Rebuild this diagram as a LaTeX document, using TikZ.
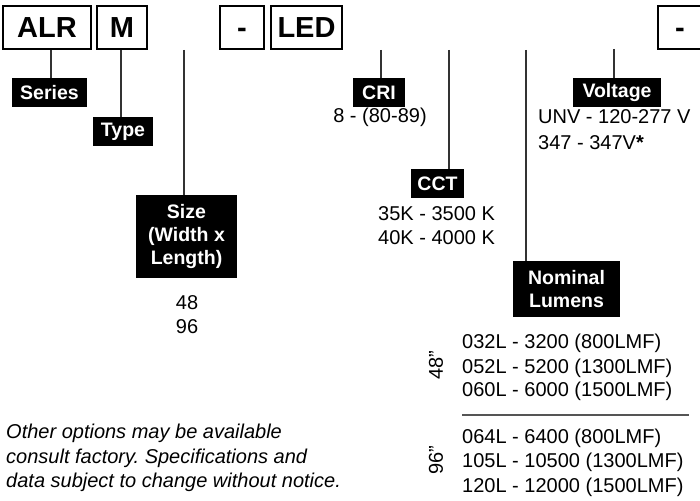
\documentclass[tikz,border=0pt]{standalone}
\usepackage{fontspec}
\setmainfont{Liberation Sans}
\frenchspacing
\usetikzlibrary{positioning, calc}
\definecolor{LineGray}{HTML}{333333}
\definecolor{RuleGray}{HTML}{555555}

\tikzset{
  codebox/.style={draw=black, line width=1.2pt, minimum height=43pt, inner sep=0pt,
                  text height=20.8pt, text depth=0pt,
                  font=\fontsize{29}{32}\selectfont\bfseries},
  tagbox/.style={fill=black, text=white, inner sep=0pt, align=center,
                 font=\fontsize{19.5}{23.3}\selectfont\bfseries},
  lead/.style={draw=LineGray, line width=1.1pt},
  option/.style={inner sep=0pt, font=\fontsize{20}{24}\selectfont}
}

\begin{document}
\begin{tikzpicture}[x=1pt, y=-1pt]
  \useasboundingbox (0,0) rectangle (700,500);

  % ordering code boxes
  \node[codebox, minimum width=88pt] (alr) at (47,27.5) {ALR};
  \node[codebox, minimum width=50pt] (m) at (122,27.5) {M};
  \node[codebox, minimum width=44pt] (dashA) at (242,27.5) {-};
  \node[codebox, minimum width=71pt] (led) at (306.5,27.5) {LED};
  \node[codebox, minimum width=44pt] (dashB) at (680,27.5) {-};

  % black tags
  \node[tagbox, minimum width=75pt, minimum height=29pt] (series) at (49.5,92.5) {Series};
  \node[tagbox, minimum width=60pt, minimum height=29pt] (type) at (123,131.5) {Type};
  \node[tagbox, minimum width=101pt, minimum height=83pt] (size) at (186.5,236.5) {Size\\(Width x\\Length)};
  \node[tagbox, minimum width=52pt, minimum height=29pt] (cri) at (379,92.5) {CRI};
  \node[tagbox, minimum width=53pt, minimum height=29pt] (cct) at (437.5,183.5) {CCT};
  \node[tagbox, minimum width=88pt, minimum height=29pt] (voltage) at (617,92.5) {Voltage};
  \node[tagbox, minimum width=107pt, minimum height=56pt] (lumens) at (566.5,289) {Nominal\\Lumens};

  % leads
  \coordinate (sizeTop) at (184,50);
  \coordinate (criTop) at (381,50);
  \coordinate (cctTop) at (449,50);
  \coordinate (lumTop) at (526,50);
  \coordinate (voltTop) at (614,49);
  \draw[lead] (series.north -| 51,0) -- (alr.south -| 51,0);
  \draw[lead] (type.north -| 121,0) -- (m.south -| 121,0);
  \draw[lead] (sizeTop) -- (size.north -| sizeTop);
  \draw[lead] (criTop) -- (cri.north -| criTop);
  \draw[lead] (cctTop) -- (cct.north -| cctTop);
  \draw[lead] (lumTop) -- (lumens.north -| lumTop);
  \draw[lead] (voltTop) -- (voltage.north -| voltTop);

  % options
  \node[option] (criOpt) at (380,117) {8 - (80-89)};
  \node[option, anchor=west] (voltA) at (538,117) {UNV - 120-277 V};
  \node[option, anchor=west] (voltB) at (538,143) {347 - 347V\textbf{*}};
  \node[option] (sizeA) at (187,303) {48};
  \node[option] (sizeB) at (187,327) {96};
  \node[option, anchor=west] (cctA) at (378,214) {35K - 3500 K};
  \node[option, anchor=west] (cctB) at (378,238) {40K - 4000 K};

  \node[option, anchor=west] (lumA) at (462,343) {032L - 3200 (800LMF)};
  \node[option, anchor=west] (lumB) at (462,368) {052L - 5200 (1300LMF)};
  \node[option, anchor=west] (lumC) at (462,391) {060L - 6000 (1500LMF)};
  \node[option, anchor=west] (lumD) at (462,438) {064L - 6400 (800LMF)};
  \node[option, anchor=west] (lumE) at (462,462) {105L - 10500 (1300LMF)};
  \node[option, anchor=west] (lumF) at (462,487) {120L - 12000 (1500LMF)};
  \node[option, rotate=90] (len48) at (436,365) {48”};
  \node[option, rotate=90] (len96) at (436,460) {96”};
  \coordinate (ruleL) at (462,415);
  \coordinate (ruleR) at (689,415);
  \draw[draw=RuleGray, line width=1.3pt] (ruleL) -- (ruleR);

  % note
  \node[option, anchor=west, align=left, font=\fontsize{20}{24.5}\selectfont\itshape] (note) at (6,458)
    {Other options may be available\\consult factory. Specifications and\\data subject to change without notice.};
\end{tikzpicture}
\end{document}
